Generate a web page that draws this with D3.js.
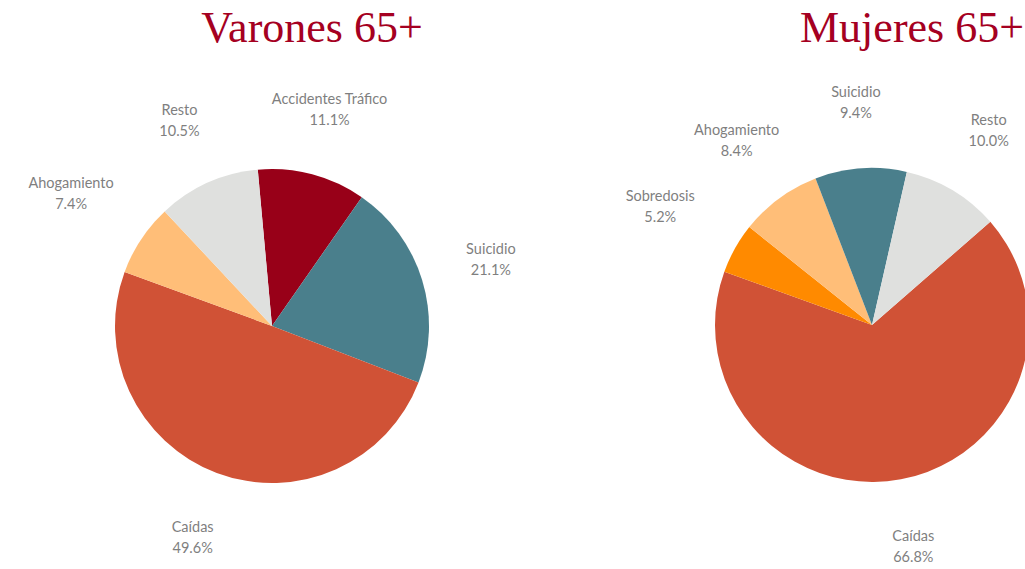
<!DOCTYPE html>
<html>
<head>
  <meta charset="utf-8">
  <title>Causas de muerte 65+</title>
  <script src="https://d3js.org/d3.v7.min.js"></script>
  <style>
    body { margin: 0; background: #fff; }
  </style>
</head>
<body>
<div id="chart"></div>
<script>
// data
const menTitle = "Varones 65+";
const menCauses = ["Accidentes Tráfico", "Suicidio", "Caídas", "Ahogamiento", "Resto"];
const menValues = [11.1, 21.1, 49.6, 7.4, 10.5];

const womenTitle = "Mujeres 65+";
const womenCauses = ["Caídas", "Sobredosis", "Ahogamiento", "Suicidio", "Resto"];
const womenValues = [66.8, 5.2, 8.4, 9.4, 10.0];

const colors = {
  "Caídas": "#d05236",
  "Suicidio": "#4a7f8c",
  "Accidentes Tráfico": "#980018",
  "Ahogamiento": "#ffbe78",
  "Resto": "#dfe0de",
  "Sobredosis": "#ff8a00"
};

const width = 1025, height = 569;
const radius = 157, labelGap = 46;   // label box sits this far outside the pie
const lineH = 21;
const fmt = d3.format(".1f");

const svg = d3.select("#chart").append("svg")
    .attr("width", width)
    .attr("height", height);

function drawPie(title, causes, values, cx, cy, startDeg) {
  const data = causes.map((c, i) => ({cause: c, value: values[i]}));
  const a0 = startDeg * Math.PI / 180;
  const pie = d3.pie().sort(null).value(d => d.value)
      .startAngle(a0).endAngle(a0 + 2 * Math.PI);
  const arc = d3.arc().innerRadius(0).outerRadius(radius);

  const g = svg.append("g").attr("transform", `translate(${cx},${cy})`);

  g.selectAll("path")
    .data(pie(data))
    .enter().append("path")
    .attr("d", arc)
    .attr("fill", d => colors[d.data.cause]);

  const lab = g.selectAll("text.lab")
    .data(pie(data))
    .enter().append("text")
    .attr("class", "lab")
    .attr("text-anchor", "middle")
    .attr("font-family", "Lato, 'Open Sans', sans-serif")
    .attr("font-size", "14.5px")
    .attr("fill", "#7f7f7f");
  lab.append("tspan").attr("x", 0).attr("y", -5).text(d => d.data.cause);
  lab.append("tspan").attr("x", 0).attr("y", 16).text(d => fmt(d.data.value) + "%");

  // outside-end placement: push the label box out along the slice's mid angle
  lab.attr("transform", function(d) {
    const w = this.getBBox().width, h = 2 * lineH;
    const mid = (d.startAngle + d.endAngle) / 2;
    const ux = Math.sin(mid), uy = -Math.cos(mid);
    const e = Math.min(w / 2 / Math.max(Math.abs(ux), 1e-6), h / 2 / Math.max(Math.abs(uy), 1e-6));
    const r = radius + labelGap + e;
    return `translate(${ux * r},${uy * r})`;
  });

  svg.append("text")
    .attr("x", cx + 40)
    .attr("y", 42)
    .attr("text-anchor", "middle")
    .attr("font-family", "'Liberation Serif', serif")
    .attr("font-size", "44px")
    .attr("fill", "#a50021")
    .text(title);
}

drawPie(menTitle, menCauses, menValues, 272, 326, -5.2);
drawPie(womenTitle, womenCauses, womenValues, 872, 325, 48.9);
</script>
</body>
</html>
